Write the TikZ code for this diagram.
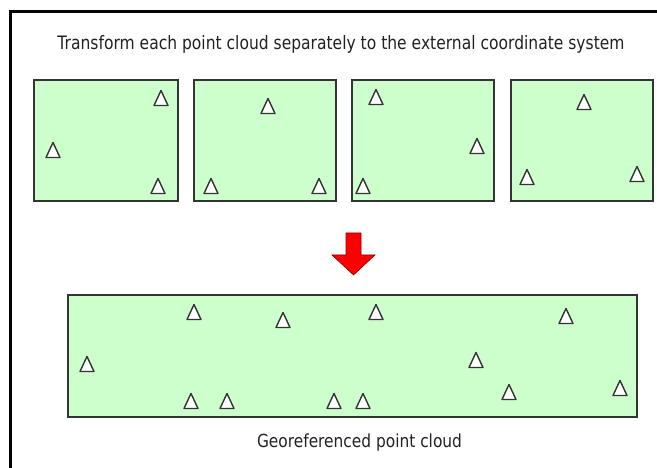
\documentclass[tikz,border=0pt]{standalone}
\usepackage{fontspec}
\setmainfont{DejaVu Sans}
\usepackage{graphicx}
\definecolor{cloudgreen}{HTML}{CCFFCC}
\definecolor{edgegray}{HTML}{333333}
\definecolor{textgray}{HTML}{222222}
\definecolor{arrowred}{HTML}{FF0000}
\tikzset{
  cloudbox/.style={draw=edgegray, fill=cloudgreen, line width=1.5pt, inner sep=0pt},
  tri/.style={draw=edgegray, line width=1.4pt, line join=round, fill=white},
  caption/.style={text=textgray, inner sep=0pt, anchor=base}
}
\begin{document}
\begin{tikzpicture}[x=1pt, y=-1pt]
  \useasboundingbox (0,0) rectangle (657,468);
  \fill[white] (0,0) rectangle (657,468);
  % outer frame: left and top edges only
  \draw[line width=3.5pt, black] (10.5,468) -- (10.5,11.5) -- (657,11.5);

  % heading
  \node[caption] (title) at (341,49.5)
    {\resizebox{567pt}{\height}{\fontsize{18.5}{20}\selectfont Transform each point cloud separately to the external coordinate system}};

  % four separate point clouds
  \node[cloudbox, minimum width=144pt, minimum height=121pt] (c1) at (106,140.5) {};
  \node[cloudbox, minimum width=142pt, minimum height=121pt] (c2) at (265,140.5) {};
  \node[cloudbox, minimum width=142pt, minimum height=121pt] (c3) at (423,140.5) {};
  \node[cloudbox, minimum width=142pt, minimum height=121pt] (c4) at (582,140.5) {};

  % merged point cloud
  \node[cloudbox, minimum width=569pt, minimum height=122pt] (geo) at (352.5,356) {};

  % control points
  \foreach \x/\y in {161/98, 53/150, 158/186,
                     268/106, 211/186, 319/186,
                     376/97, 477/146, 363/186,
                     584/102, 527/177, 637/174,
                     194/312, 283/320, 87/364, 191/401, 227/401, 334/401, 363/401,
                     376/312, 566/316, 476/360, 509/392, 620/388}
    \draw[tri] (\x-7,\y+7.5) -- (\x,\y-7.5) -- (\x+7,\y+7.5) -- cycle;

  % block arrow pointing down
  \filldraw[fill=arrowred, draw=red!55!black, line width=0.6pt, line join=miter]
    (346,233) -- (361,233) -- (361,255) -- (375,255) -- (353.5,275)
    -- (332,255) -- (346,255) -- cycle;

  % caption under the merged cloud
  \node[caption] (geolabel) at (359.5,447)
    {\resizebox{205pt}{\height}{\fontsize{18}{20}\selectfont Georeferenced point cloud}};
\end{tikzpicture}
\end{document}
